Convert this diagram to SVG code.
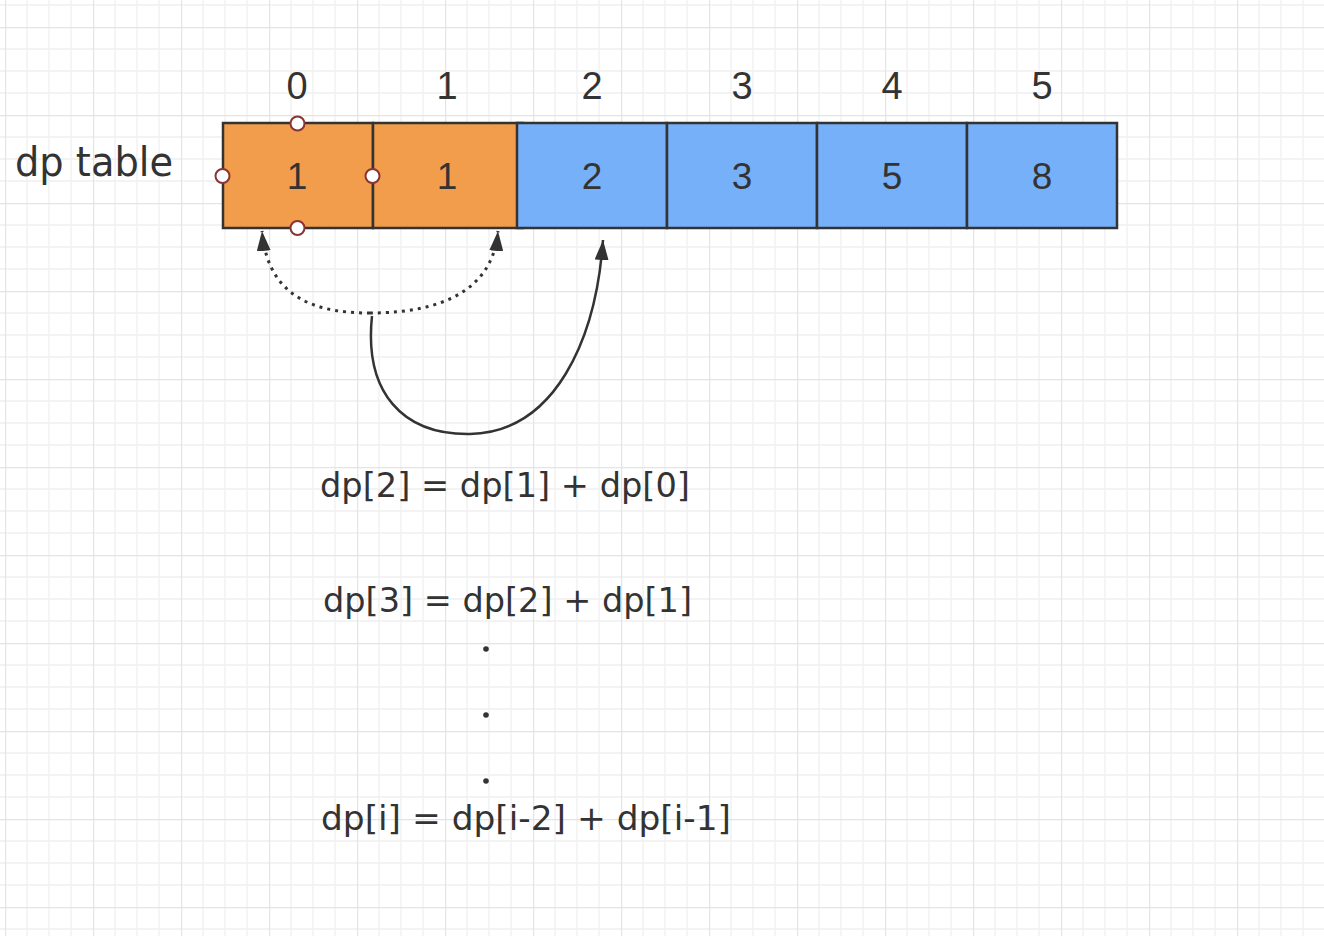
<svg xmlns="http://www.w3.org/2000/svg" width="1324" height="936" viewBox="0 0 1324 936">
  <style>
    .cell { stroke: #333333; stroke-width: 2.5; }
    .orange { fill: #F19D4B; }
    .blue { fill: #76B0F9; }
    .idx { font-family: "Liberation Sans", Arial, sans-serif; font-size: 38px; fill: #333333; text-anchor: middle; }
    .val { font-family: "Liberation Sans", Arial, sans-serif; font-size: 37px; fill: #333333; text-anchor: middle; }
    .hand { font-family: "DejaVu Sans", sans-serif; font-size: 33px; fill: #333333; }
    .handle { fill: #ffffff; stroke: #8B3333; stroke-width: 2; }
    .conn { fill: none; stroke: #333333; stroke-width: 2.5; }
    .dotted { stroke-width: 3; stroke-dasharray: 3 5; }
  </style>
  <defs>
    <pattern id="grid" patternUnits="userSpaceOnUse" x="5" y="27" width="88" height="88">
      <rect width="88" height="88" fill="#ffffff"/>
      <path d="M22 0V88M44 0V88M66 0V88M0 22H88M0 44H88M0 66H88" stroke="#f0f0f0" stroke-width="1.3"/>
      <path d="M0 0V88M0 0H88" stroke="#e4e4e4" stroke-width="2.4"/>
    </pattern>
    <marker id="arrow" markerUnits="userSpaceOnUse" viewBox="0 0 21 14" markerWidth="21" markerHeight="14" refX="20" refY="7" orient="auto">
      <path d="M0,0 L20,7 L0,14 z" fill="#333333"/>
    </marker>
  </defs>

  <rect x="0" y="0" width="1324" height="936" fill="url(#grid)"/>

  <g id="label-dp-table">
    <text class="hand" x="15" y="176" style="font-size:40px" textLength="158" lengthAdjust="spacingAndGlyphs">dp table</text>
  </g>

  <g id="indices">
    <text class="idx" x="297" y="99">0</text>
    <text class="idx" x="447" y="99">1</text>
    <text class="idx" x="592" y="99">2</text>
    <text class="idx" x="742" y="99">3</text>
    <text class="idx" x="892" y="99">4</text>
    <text class="idx" x="1042" y="99">5</text>
  </g>

  <g id="cell-0">
    <rect class="cell orange" x="223" y="123" width="150" height="105"/>
    <text class="val" x="297" y="189">1</text>
  </g>
  <g id="cell-1">
    <rect class="cell orange" x="373" y="123" width="150" height="105"/>
    <text class="val" x="447" y="189">1</text>
  </g>
  <g id="cell-2">
    <rect class="cell blue" x="517" y="123" width="150" height="105"/>
    <text class="val" x="592" y="189">2</text>
  </g>
  <g id="cell-3">
    <rect class="cell blue" x="667" y="123" width="150" height="105"/>
    <text class="val" x="742" y="189">3</text>
  </g>
  <g id="cell-4">
    <rect class="cell blue" x="817" y="123" width="150" height="105"/>
    <text class="val" x="892" y="189">5</text>
  </g>
  <g id="cell-5">
    <rect class="cell blue" x="967" y="123" width="150" height="105"/>
    <text class="val" x="1042" y="189">8</text>
  </g>

  <g id="selection-handles">
    <circle class="handle" cx="297.5" cy="123.5" r="7"/>
    <circle class="handle" cx="222.5" cy="176" r="7"/>
    <circle class="handle" cx="372.5" cy="176" r="7"/>
    <circle class="handle" cx="297.5" cy="228" r="7"/>
  </g>

  <g id="connectors">
    <path class="conn dotted" d="M370,313 C322,313 268,302 262,231" marker-end="url(#arrow)"/>
    <path class="conn dotted" d="M370,313 C420,313 492,302 498,231" marker-end="url(#arrow)"/>
    <path class="conn" d="M372,316 C364,392 402,435 470,434 C555,432 596,340 603,240" marker-end="url(#arrow)"/>
  </g>

  <g id="formula-1">
    <text class="hand" x="320" y="497" textLength="370" lengthAdjust="spacingAndGlyphs">dp[2] = dp[1] + dp[0]</text>
  </g>
  <g id="formula-2">
    <text class="hand" x="323" y="612" textLength="369" lengthAdjust="spacingAndGlyphs">dp[3] = dp[2] + dp[1]</text>
  </g>
  <g id="ellipsis">
    <circle cx="486" cy="649" r="2.8" fill="#333333"/>
    <circle cx="486" cy="715" r="2.8" fill="#333333"/>
    <circle cx="486" cy="781" r="2.8" fill="#333333"/>
  </g>
  <g id="formula-3">
    <text class="hand" x="321" y="830" textLength="410" lengthAdjust="spacingAndGlyphs">dp[i] = dp[i-2] + dp[i-1]</text>
  </g>
</svg>
